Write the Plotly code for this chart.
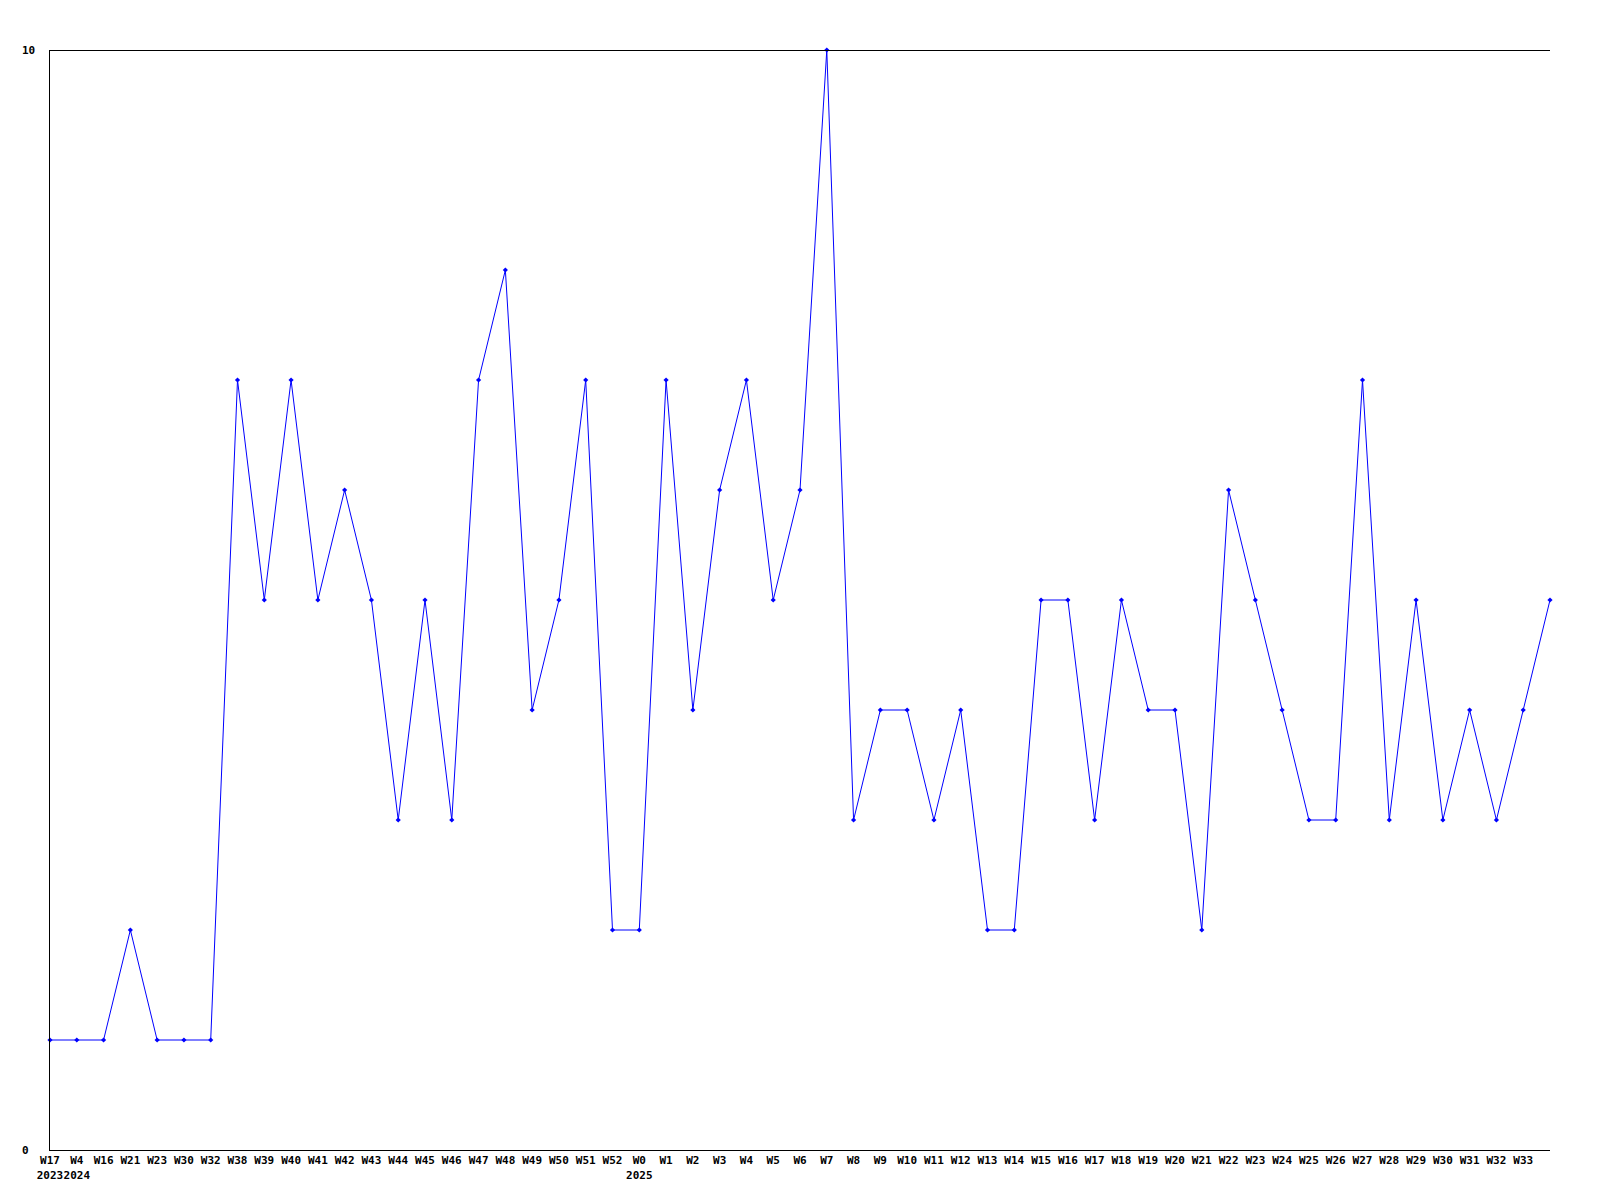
import plotly.graph_objects as go

weeks = ["W17", "W4", "W16", "W21", "W23", "W30", "W32", "W38", "W39", "W40",
         "W41", "W42", "W43", "W44", "W45", "W46", "W47", "W48", "W49", "W50",
         "W51", "W52", "W0", "W1", "W2", "W3", "W4", "W5", "W6", "W7",
         "W8", "W9", "W10", "W11", "W12", "W13", "W14", "W15", "W16", "W17",
         "W18", "W19", "W20", "W21", "W22", "W23", "W24", "W25", "W26", "W27",
         "W28", "W29", "W30", "W31", "W32", "W33", ""]
years = {0: "2023", 1: "2024", 22: "2025"}
values = [1, 1, 1, 2, 1, 1, 1, 7, 5, 7,
          5, 6, 5, 3, 5, 3, 7, 8, 4, 5,
          7, 2, 2, 7, 4, 6, 7, 5, 6, 10,
          3, 4, 4, 3, 4, 2, 2, 5, 5, 3,
          5, 4, 4, 2, 6, 5, 4, 3, 3, 7,
          3, 5, 3, 4, 3, 4, 5]
y_ticks = [0, 10]

x = list(range(len(values)))
ticktext = [w + ("<br>" + years[i] if i in years else "") for i, w in enumerate(weeks)]

font = dict(family="DejaVu Sans Mono", size=11, color="black", weight="bold")

fig = go.Figure(go.Scatter(
    x=x, y=values, mode="lines+markers",
    line=dict(color="#0000ff", width=1),
    marker=dict(color="#0000ff", size=4, symbol="diamond"),
    cliponaxis=False,
))

fig.update_layout(
    width=1600, height=1200,
    margin=dict(l=42, r=58, t=42, b=58, pad=0, autoexpand=False),
    paper_bgcolor="white", plot_bgcolor="white",
    showlegend=False,
    font=font,
)
fig.update_xaxes(
    range=[0, len(values) - 1], tickmode="array", tickvals=x, ticktext=ticktext,
    showgrid=False, zeroline=False, showline=True, linecolor="black", linewidth=1,
    ticks="", tickfont=font, tickangle=0, automargin=False,
)
fig.update_yaxes(
    range=[0, 10], tickmode="array", tickvals=y_ticks, showticklabels=False,
    showgrid=False, zeroline=False,
    showline=True, linecolor="black", linewidth=1, ticks="", automargin=False,
)
# y tick labels, left aligned like the reference
for v in y_ticks:
    fig.add_annotation(xref="paper", x=0, xshift=-30, xanchor="left", yref="y", y=v,
                       text=str(v), showarrow=False, font=font, yanchor="middle")
# top reference line at the highest y tick (pixel-aligned for crispness)
fig.add_shape(type="line", xref="paper", x0=0, x1=1, yref="y", ysizemode="pixel",
              yanchor=max(y_ticks), y0=-0.5, y1=-0.5,
              line=dict(color="black", width=1))
fig.write_html("out.html")
